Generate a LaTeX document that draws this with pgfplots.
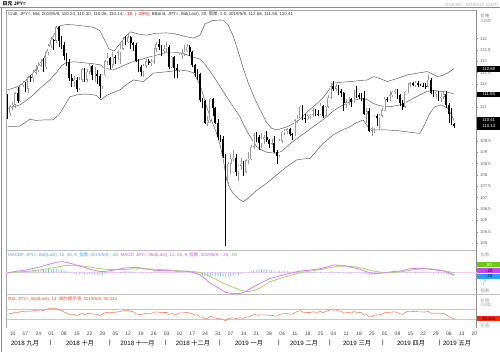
\documentclass[border=0pt]{standalone}
\usepackage{fontspec}
\setmainfont{Liberation Sans}
\newfontfamily\cjk{Noto Sans CJK SC}
\usepackage{pgfplots}
\usepackage{pgfplotstable}
\pgfplotsset{compat=1.18}

\definecolor{bbgray}{HTML}{505050}
\definecolor{upgray}{HTML}{9A9A9A}
\definecolor{macdmag}{HTML}{E27CF2}
\definecolor{macdgreen}{HTML}{A2D862}
\definecolor{histblue}{HTML}{6CBEF4}
\definecolor{zeropink}{HTML}{F2CDF7}
\definecolor{rsiline}{HTML}{FF7C5C}
\definecolor{rsiband}{HTML}{FFB2A0}
\definecolor{rsired}{HTML}{FF4A26}
\definecolor{hdrblue}{HTML}{4AA8F0}
\definecolor{hdrmag}{HTML}{D650F0}
\definecolor{hdrgreen}{HTML}{66BB22}
\definecolor{boxgreen}{HTML}{66CC11}
\definecolor{boxmag}{HTML}{CC44F4}
\definecolor{boxblue}{HTML}{22A2F6}
\definecolor{boxred}{HTML}{EE2A0A}

\newcommand\sm{\fontsize{4.3}{5}\selectfont}
\newcommand\hdr{\fontsize{4.45}{5}\selectfont}

\pgfplotstableread{
d O H L C
-2 111.45 111.55 110.45 110.72
-1 110.72 111.10 110.60 111.02
0 111.02 111.20 110.85 111.10
1 111.10 111.65 110.95 111.60
2 111.60 111.85 111.15 111.25
3 111.25 112.00 111.20 111.95
4 111.95 112.15 111.85 112.05
5 112.05 112.10 111.65 111.80
6 111.80 112.35 111.60 112.30
7 112.30 112.40 112.10 112.25
8 112.25 112.60 112.10 112.50
9 112.50 112.85 112.40 112.60
10 112.60 112.95 112.55 112.80
11 112.80 113.10 112.75 112.95
12 112.95 113.15 112.55 112.75
13 112.75 113.45 112.65 113.40
14 113.40 113.75 113.30 113.70
15 113.70 114.05 113.60 113.95
16 113.95 114.00 113.50 113.90
17 113.90 114.55 113.80 114.50
18 114.50 114.55 113.65 113.90
19 113.90 114.10 113.55 113.70
20 113.70 113.85 113.05 113.25
21 113.25 113.35 112.80 112.95
22 112.95 113.10 112.15 112.25
23 112.25 112.45 111.85 112.15
24 112.15 112.35 111.85 112.20
25 112.20 112.30 111.65 111.80
26 111.80 112.30 111.75 112.20
27 112.20 112.70 112.10 112.65
28 112.65 112.70 112.10 112.20
29 112.20 112.65 112.10 112.55
30 112.55 112.90 112.45 112.80
31 112.80 112.85 112.20 112.40
32 112.40 112.75 112.10 112.45
33 112.45 112.60 112.00 112.35
34 112.35 112.45 111.40 111.90
35 111.90 112.45 111.80 112.40
36 112.40 113.05 112.35 113.00
37 113.00 113.35 112.85 113.15
38 113.15 113.20 112.65 112.85
39 112.85 113.40 112.70 113.20
40 113.20 113.30 112.90 113.15
41 113.15 113.50 113.05 113.40
42 113.40 113.80 112.90 113.55
43 113.55 114.05 113.50 113.95
44 113.95 114.10 113.70 113.85
45 113.85 114.25 113.80 114.05
46 114.05 114.10 113.55 113.80
47 113.80 113.85 113.45 113.70
48 113.70 113.80 112.95 113.00
49 113.00 113.10 112.55 112.75
50 112.75 112.85 112.35 112.55
51 112.55 112.90 112.30 112.80
52 112.80 113.10 112.70 113.00
53 113.00 113.10 112.85 112.92
54 112.92 113.10 112.80 112.98
55 112.98 113.60 112.90 113.55
56 113.55 113.85 113.40 113.75
57 113.75 114.00 113.50 113.65
58 113.65 113.70 113.25 113.45
59 113.45 113.70 113.35 113.55
60 113.55 113.85 113.40 113.65
61 113.65 113.70 112.65 112.75
62 112.75 113.25 112.70 113.20
63 113.20 113.25 112.25 112.70
64 112.70 112.90 112.25 112.62
65 112.62 113.35 112.55 113.30
66 113.30 113.55 113.10 113.35
67 113.35 113.70 113.25 113.45
68 113.45 113.75 113.40 113.65
69 113.65 113.70 113.25 113.40
70 113.40 113.45 112.75 112.85
71 112.85 112.90 112.30 112.50
72 112.50 112.65 112.20 112.45
73 112.45 112.50 111.20 111.30
74 111.30 111.40 110.95 111.25
75 111.25 111.30 110.25 110.30
76 110.30 110.60 110.15 110.40
77 110.40 111.40 110.30 111.35
78 111.35 111.40 110.60 110.95
79 110.95 111.00 110.25 110.30
80 110.30 110.45 109.55 109.65
81 109.65 109.75 109.45 109.60
82 109.60 109.70 108.75 108.85
83 108.85 108.90 104.87 107.65
84 107.65 108.55 107.50 108.50
85 108.50 108.90 108.05 108.70
86 108.70 109.10 108.60 108.75
87 108.75 108.90 107.95 108.15
88 108.15 108.45 107.75 108.40
89 108.40 108.75 108.20 108.50
90 108.50 108.60 107.95 108.15
91 108.15 108.70 108.10 108.65
92 108.65 109.00 108.50 108.70
93 108.70 109.30 108.65 109.25
94 109.25 109.85 109.15 109.75
95 109.75 109.90 109.45 109.65
96 109.65 109.75 109.10 109.40
97 109.40 109.85 109.20 109.60
98 109.60 109.75 109.35 109.65
99 109.65 109.95 109.45 109.55
100 109.55 109.60 109.20 109.35
101 109.35 109.60 109.30 109.40
102 109.40 109.70 108.95 109.00
103 109.00 109.10 108.50 108.85
104 108.85 109.60 108.80 109.50
105 109.50 109.95 109.40 109.90
106 109.90 110.00 109.75 109.95
107 109.95 110.05 109.80 110.00
108 110.00 110.05 109.70 109.80
109 109.80 109.85 109.55 109.75
110 109.75 110.45 109.70 110.40
111 110.40 110.65 110.30 110.50
112 110.50 111.05 110.45 111.00
113 111.00 111.10 110.40 110.50
114 110.50 110.70 110.30 110.45
115 110.45 110.70 110.40 110.60
116 110.60 110.70 110.45 110.65
117 110.65 110.95 110.55 110.85
118 110.85 110.90 110.60 110.70
119 110.70 110.85 110.60 110.68
120 110.68 111.15 110.65 111.05
121 111.05 111.10 110.50 110.60
122 110.60 111.05 110.50 111.00
123 111.00 111.50 110.95 111.40
124 111.40 112.05 111.35 111.90
125 111.90 112.15 111.70 111.80
126 111.80 112.00 111.70 111.90
127 111.90 111.95 111.50 111.70
128 111.70 111.80 111.45 111.60
129 111.60 111.65 110.80 111.15
130 111.15 111.35 110.95 111.20
131 111.20 111.45 111.10 111.35
132 111.35 111.40 111.00 111.20
133 111.20 111.75 111.15 111.70
134 111.70 111.90 111.40 111.50
135 111.50 111.60 111.35 111.45
136 111.45 111.60 111.25 111.40
137 111.40 111.70 110.65 110.70
138 110.70 110.95 110.30 110.80
139 110.80 110.95 109.90 109.95
140 109.95 110.10 109.70 110.05
141 110.05 110.65 109.85 110.60
142 110.60 110.70 110.15 110.50
143 110.50 110.70 110.00 110.60
144 110.60 110.95 110.55 110.85
145 110.85 111.45 110.80 111.35
146 111.35 111.45 111.20 111.30
147 111.30 111.70 111.25 111.50
148 111.50 111.70 111.45 111.65
149 111.65 111.80 111.55 111.70
150 111.70 111.80 111.35 111.50
151 111.50 111.55 111.05 111.15
152 111.15 111.30 110.85 111.00
153 111.00 111.70 110.95 111.65
154 111.65 112.05 111.60 112.00
155 112.00 112.10 111.85 112.03
156 112.03 112.10 111.90 111.95
157 111.95 112.15 111.85 112.05
158 112.05 112.15 111.85 111.95
159 111.95 112.00 111.90 111.92
160 111.92 112.05 111.85 111.90
161 111.90 112.05 111.80 111.88
162 111.88 112.40 111.85 112.20
163 112.20 112.25 111.55 111.60
164 111.60 111.75 111.45 111.55
165 111.55 111.70 111.40 111.65
166 111.65 111.70 111.25 111.40
167 111.40 111.60 111.20 111.45
168 111.45 111.65 111.35 111.55
169 111.55 111.70 110.95 111.10
170 111.10 111.15 110.30 110.70
171 110.70 110.95 110.20 110.25
172 110.24 110.30 110.06 110.14
}\candles

\pgfplotstableread{
d v
-2 111.74
1 111.85
3 111.95
6 112.25
8 112.50
10 112.80
12 113.10
14 113.60
16 114.15
18 114.55
21 114.62
24 114.60
28 114.55
31.5 114.50
34 114.35
36 113.90
37.5 113.55
39.5 113.45
42 113.80
44 114.10
46 114.30
49 114.20
52 114.15
56 114.24
60 114.25
63 114.22
67 114.10
70.5 114.02
73 114.15
75 114.65
78 114.80
82 114.82
84 114.60
86 114.10
88 113.40
90 112.65
92 112.00
94 111.45
96.5 110.86
99 110.30
101 110.05
103 109.98
105 110.05
107 110.12
110 110.30
112 110.45
115 110.80
118.7 111.15
121 111.40
123 111.70
125 112.04
128 112.08
131.7 112.11
135 112.15
138.2 112.18
140.7 112.33
143 112.25
146 112.11
150 112.25
153.8 112.40
157.7 112.48
161.6 112.55
163.5 112.45
165.5 112.33
167.5 112.38
169.4 112.48
171 112.60
172 112.68
}\bbup

\pgfplotstableread{
d v
-2 110.93
2.8 111.08
5 111.25
8 111.52
11 111.85
14.5 112.18
17 112.50
19 112.80
21 112.95
24 112.98
27.5 112.94
31 112.90
34 112.85
36 112.70
39 112.62
42 112.75
45 112.90
47 112.99
50 113.08
53.5 113.20
57 113.30
60 113.40
63 113.40
66.5 113.35
70 113.20
73 113.10
75 112.86
77 112.55
78.5 112.30
80.8 111.90
83.4 111.44
86 111.00
88.6 110.56
90.5 110.10
92.5 109.70
95.1 109.24
97 109.10
99 109.00
102.9 108.95
105 109.05
106.8 109.24
109 109.45
112 109.70
114.5 109.90
117.1 110.12
120 110.35
122.4 110.56
125 110.82
127.5 111.00
131.4 111.22
134 111.32
136.6 111.37
138.5 111.30
140.5 111.15
143 111.05
145.8 111.00
148 111.02
150.9 111.08
153.5 111.20
156.1 111.37
158.7 111.52
161.3 111.67
164 111.72
166.5 111.68
169 111.65
171 111.60
172 111.55
}\bbmid

\pgfplotstableread{
d v
-2 110.12
2.8 110.15
6.7 110.45
9 110.40
12 110.42
15.8 110.42
18.4 110.70
20.5 111.10
22.3 111.44
25 111.52
27.5 111.56
30 111.55
32.7 111.50
34.5 111.30
36.6 111.50
39 111.62
41.8 111.74
44 111.95
47 112.18
50.9 112.11
53 112.30
54.8 112.48
58 112.52
61 112.55
65.2 112.62
68 112.58
70.4 112.50
72 112.20
73.5 111.80
75.6 111.00
77.5 110.40
79.5 109.83
81 109.25
82.1 108.66
83.4 107.78
85 107.35
86 107.19
88 106.95
89.9 106.82
91.5 106.95
93.8 107.19
96 107.40
99 107.63
101 107.82
102.9 108.00
106.8 108.36
110.7 108.66
113 108.70
115.9 108.73
118 109.00
121 109.39
124.9 109.76
128 109.95
131.4 110.12
134 110.30
136.6 110.42
138 110.20
139.2 109.98
142 109.98
145.8 109.98
150 109.95
153.5 109.90
156 109.86
158.7 109.83
160.5 110.20
162.5 110.70
164.5 111.00
167 111.08
169.5 110.95
171 110.65
172 110.41
}\bblow

\pgfplotstableread{
d v
-2 0.00
2 0.12
5 0.20
8 0.32
11 0.45
14 0.62
17 0.78
19 0.83
21 0.78
23 0.68
26 0.50
28 0.40
30 0.27
32 0.18
34 0.08
36 0.10
38 0.15
41 0.25
43 0.33
45 0.37
47 0.40
49.6 0.38
51 0.30
53 0.26
56 0.15
59 0.18
62 0.15
64 0.10
66 0.12
69 0.08
71 -0.02
73 -0.17
75 -0.45
77 -0.80
79 -1.00
81 -1.25
83 -1.48
86 -1.58
89 -1.55
91 -1.40
93 -1.15
96 -0.85
100 -0.45
104 -0.25
108 -0.05
112 0.12
116 0.20
120 0.30
123 0.45
125 0.58
128 0.56
131 0.45
135 0.28
137 0.15
139 0.00
142 -0.08
145 0.00
148 0.08
151 0.12
155 0.30
158 0.33
161 0.30
165 0.20
168 0.12
170 0.00
172 -0.20
}\macdline

\pgfplotstableread{
d v
-2 0.00
3 0.06
8 0.14
13 0.28
17 0.42
21 0.55
25 0.56
29 0.46
33 0.33
37 0.25
42 0.24
47 0.28
52 0.30
57 0.24
62.6 0.18
67 0.12
70 0.10
73 0.02
76 -0.20
79 -0.48
82 -0.78
85 -1.02
88.6 -1.30
91 -1.42
93 -1.40
96 -1.20
100 -0.70
104 -0.45
108 -0.22
112 0.00
116 0.12
120 0.24
123 0.35
126.5 0.48
130 0.50
134 0.42
137 0.32
140 0.15
144 0.02
148 0.02
152 0.08
156 0.22
160 0.32
164 0.28
168 0.15
172 0.00
}\macdsig

\pgfplotstableread{
d v
-2 0.03
-1 0.05
0 0.07
1 0.10
2 0.11
3 0.14
4 0.16
5 0.16
6 0.18
7 0.18
8 0.19
9 0.20
10 0.21
11 0.22
12 0.21
13 0.24
14 0.26
15 0.27
16 0.27
17 0.30
18 0.26
19 0.22
20 0.16
21 0.10
22 0.03
23 -0.03
24 -0.07
25 -0.12
26 -0.12
27 -0.10
28 -0.13
29 -0.13
30 -0.11
31 -0.13
32 -0.14
33 -0.15
34 -0.18
35 -0.14
36 -0.08
37 -0.04
38 -0.03
39 0.00
40 0.02
41 0.04
42 0.06
43 0.09
44 0.10
45 0.12
46 0.10
47 0.08
48 0.03
49 -0.02
50 -0.05
51 -0.06
52 -0.05
53 -0.05
54 -0.05
55 -0.02
56 0.01
57 0.02
58 0.01
59 0.01
60 0.01
61 -0.04
62 -0.04
63 -0.06
64 -0.07
65 -0.04
66 -0.02
67 0.00
68 0.02
69 0.01
70 -0.03
71 -0.07
72 -0.10
73 -0.17
74 -0.20
75 -0.26
76 -0.27
77 -0.22
78 -0.22
79 -0.25
80 -0.28
81 -0.27
82 -0.30
83 -0.36
84 -0.30
85 -0.24
86 -0.20
87 -0.20
88 -0.14
89 -0.08
90 -0.04
91 0.00
92 0.05
93 0.12
94 0.20
95 0.24
96 0.26
97 0.27
98 0.27
99 0.26
100 0.23
101 0.20
102 0.13
103 0.08
104 0.10
105 0.13
106 0.13
107 0.12
108 0.10
109 0.07
110 0.10
111 0.11
112 0.14
113 0.09
114 0.06
115 0.05
116 0.04
117 0.05
118 0.03
119 0.02
120 0.04
121 0.00
122 0.02
123 0.05
124 0.09
125 0.08
126 0.07
127 0.05
128 0.03
129 -0.02
130 -0.04
131 -0.05
132 -0.06
133 -0.03
134 -0.03
135 -0.04
136 -0.05
137 -0.10
138 -0.11
139 -0.16
140 -0.16
141 -0.12
142 -0.10
143 -0.07
144 -0.04
145 0.01
146 0.03
147 0.05
148 0.06
149 0.07
150 0.05
151 0.01
152 -0.01
153 0.03
154 0.07
155 0.08
156 0.07
157 0.07
158 0.05
159 0.04
160 0.02
161 0.01
162 0.03
163 -0.02
164 -0.04
165 -0.05
166 -0.07
167 -0.07
168 -0.07
169 -0.10
170 -0.14
171 -0.18
172 -0.20
}\macdhist

\pgfplotstableread{
d v
-2 51
0 55
1 60
2 56
3 62
4 63
5 60
6 64
7 63
8 66
9 67
10 68
11 69
12 66
13 71
14 74
15 75
16 74
17 77
18 69
19 66
20 60
21 56
22 49
23 48
24 49
25 45
26 50
27 54
28 49
29 53
30 55
31 51
32 51
33 50
34 45
35 51
36 57
37 59
38 56
39 59
40 59
41 61
42 62
43 66
44 65
45 67
46 63
47 61
48 53
49 50
50 49
51 52
52 54
53 54
54 54
55 59
56 60
57 59
58 57
59 58
60 58
61 50
62 54
63 50
64 50
65 56
66 56
67 57
68 58
69 56
70 51
71 48
72 48
73 38
74 38
75 32
76 33
77 42
78 39
79 34
80 31
81 31
82 27
83 22
84 32
85 34
86 35
87 32
88 34
89 35
90 33
91 38
92 38
93 44
94 49
95 48
96 46
97 48
98 48
99 47
100 46
101 46
102 43
103 42
104 49
105 52
106 53
107 53
108 51
109 51
110 58
111 62
112 66
113 60
114 57
115 58
116 58
117 61
118 59
119 59
120 63
121 57
122 62
123 66
124 70
125 68
126 69
127 65
128 63
129 56
130 57
131 58
132 56
133 62
134 59
135 58
136 57
137 47
138 49
139 39
140 40
141 48
142 47
143 48
144 51
145 57
146 57
147 59
148 60
149 61
150 57
151 52
152 50
153 58
154 63
155 63
156 62
157 63
158 61
159 61
160 60
161 60
162 64
163 55
164 54
165 56
166 52
167 53
168 55
169 48
170 41
171 35
172 30.4
}\rsi

\pgfplotsset{candle/.style={forget plot, only marks, mark=*, mark size=0pt,
  mark options={draw=none, fill=none},
  restrict y to domain=100:130,
  error bars/y dir=plus, error bars/y explicit, error bars/error mark=none}}

\begin{document}
\begin{tikzpicture}
\fill[white] (0pt,0pt) rectangle (500pt,352pt);
\path[use as bounding box] (0pt,0pt) rectangle (500pt,352pt);

\begin{scope}[x=1pt,y=1pt]
% outer frame
\draw[black!45, line width=1.2pt] (0,344.5) -- (500,344.5);
\draw[black!45, line width=0.9pt] (1.8,344.5) -- (1.8,0);
\node[anchor=west, inner sep=0pt, font=\fontsize{4.9}{5}\selectfont\bfseries] at (2.5,348.6) {{\cjk 日元} JPY=};
\node[anchor=east, inner sep=0pt, text=black!30, font=\sm] at (498.5,347) {2018/9/5 - 2019/5/21 (GMT)};
% panel frame
\draw[black!35, line width=0.5pt] (6,24) -- (6,342) -- (476,342);
\draw[black!45, line width=0.6pt] (476,342) -- (476,24);
\draw[black!25, line width=0.5pt] (6,101.5) -- (476,101.5);
\draw[black!25, line width=0.5pt] (6,57.5) -- (500,57.5);
% MACD zero line
\draw[zeropink, line width=1.4pt] (6,79.3) -- (500,79.3);
\end{scope}

% ---------------- main price panel ----------------
\begin{axis}[
  at={(6pt,103pt)}, anchor=south west, scale only axis,
  width=470pt, height=239pt,
  xmin=-2.6, xmax=180.6, ymin=104.74, ymax=115.26,
  axis x line=none, axis y line*=right,
  y axis line style={draw=none},
  ytick={105,105.5,106,106.5,107,107.5,108,108.5,109,109.5,110,110.5,111,111.5,112,112.5,113,113.5,114},
  yticklabels={105,105.5,106,106.5,107,107.5,108,108.5,109,109.5,110,,111,,112,112.5,113,113.5,114},
  tick align=outside, major tick length=2pt,
  ytick style={draw=black!45, line width=0.4pt},
  yticklabel style={font=\sm, text=black!60, inner sep=0pt, xshift=1.8pt},
]
\addplot[bbgray, line width=0.45pt, mark=none] table[x=d,y=v]{\bbup};
\addplot[bbgray, line width=0.45pt, mark=none] table[x=d,y=v]{\bbmid};
\addplot[bbgray, line width=0.45pt, mark=none] table[x=d,y=v]{\bblow};
% up candles: wick, body outline, hollow inside
\addplot[candle, error bars/error bar style={upgray, line width=0.5pt}]
  table[x=d, y expr={\thisrow{C}>=\thisrow{O} ? \thisrow{L} : 0},
        y error plus expr={\thisrow{H}-\thisrow{L}}]{\candles};
\addplot[candle, error bars/error bar style={upgray, line width=1.75pt}]
  table[x=d, y expr={\thisrow{C}>=\thisrow{O} ? \thisrow{O} : 0},
        y error plus expr={\thisrow{C}-\thisrow{O}}]{\candles};
\addplot[candle, error bars/error bar style={white, line width=0.85pt}]
  table[x=d, y expr={\thisrow{C}>=\thisrow{O} ? \thisrow{O}+0.018 : 0},
        y error plus expr={max(\thisrow{C}-\thisrow{O}-0.036,0)}]{\candles};
% down candles: black wick and filled body
\addplot[candle, error bars/error bar style={black, line width=0.5pt}]
  table[x=d, y expr={\thisrow{C}<\thisrow{O} ? \thisrow{L} : 0},
        y error plus expr={\thisrow{H}-\thisrow{L}}]{\candles};
\addplot[candle, error bars/error bar style={black, line width=1.75pt}]
  table[x=d, y expr={\thisrow{C}<\thisrow{O} ? \thisrow{C} : 0},
        y error plus expr={\thisrow{O}-\thisrow{C}}]{\candles};
\end{axis}

% ---------------- MACD panel ----------------
\begin{axis}[
  at={(6pt,57.5pt)}, anchor=south west, scale only axis,
  width=470pt, height=44pt,
  xmin=-2.6, xmax=180.6, ymin=-1.64, ymax=1.67,
  hide axis,
]
\addplot[ybar, bar width=0.7pt, fill=histblue, draw=none, forget plot] table[x=d,y=v]{\macdhist};
\addplot[macdgreen, line width=0.8pt, mark=none] table[x=d,y=v]{\macdsig};
\addplot[macdmag, line width=0.8pt, mark=none] table[x=d,y=v]{\macdline};
\end{axis}

% ---------------- RSI panel ----------------
\begin{axis}[
  at={(6pt,24pt)}, anchor=south west, scale only axis,
  width=470pt, height=33.5pt,
  xmin=-2.6, xmax=180.6, ymin=-8.6, ymax=135.2,
  axis y line=none, axis x line*=bottom,
  x axis line style={draw=none},
  xtick={0,5,...,180},
  xticklabels={10,17,24,01,08,15,22,29,05,12,19,26,03,10,17,24,31,07,14,21,28,04,11,18,25,04,11,18,25,01,08,15,22,29,06,13,20},
  xtick style={draw=none},
  xticklabel style={font=\fontsize{5}{6}\selectfont, text=black!75, anchor=base, yshift=-7.2pt},
]
\addplot[rsiband, line width=0.9pt, mark=none, forget plot] coordinates {(-2.6,70) (180.6,70)};
\addplot[rsiband, line width=0.9pt, mark=none, forget plot] coordinates {(-2.6,30) (180.6,30)};
\addplot[rsiline, line width=0.55pt, mark=none] table[x=d,y=v]{\rsi};
\end{axis}

\begin{scope}[x=1pt,y=1pt]
% ---------------- headers ----------------
\node[anchor=west, inner sep=0pt, font=\hdr, text=black!80] at (8,338.4)
  {Cndl, JPY=, Bid, 2019/5/8, 110.24, 110.30, 110.06, 110.14, \textcolor{red}{-.10, (-.09\%)}, BBand, JPY=, Bid(Last), 20, {\cjk 简单}, 2.0, 2019/5/8, 112.68, 111.55, 110.41};
\node[anchor=west, inner sep=0pt, font=\hdr] at (8,96.8)
  {\textcolor{hdrblue}{MACDF, JPY=, Bid(Last), 12, 26, 9, {\cjk 指数}, 2019/5/8, -.20,} \textcolor{hdrmag}{MACD, JPY=, Bid(Last), 12, 26, 9, {\cjk 指数}, 2019/5/8, -.20,} \textcolor{hdrgreen}{.00}};
\node[anchor=west, inner sep=0pt, font=\hdr, text=rsired] at (8,53)
  {RSI, JPY=, Bid(Last), 14, {\cjk 威尔德平滑}, 2019/5/8, 30.434};

% ---------------- right column labels ----------------
\node[anchor=west, inner sep=0pt, font=\sm, text=black!50] at (480.5,336) {{\cjk 价格}};
\node[anchor=west, inner sep=0pt, font=\sm, text=black!50] at (480.5,331.3) {/USD};
\node[anchor=west, fill=black, text=white, inner sep=0pt, minimum width=23pt, minimum height=5.4pt, font=\sm] at (477,282.8) {112.68};
\node[anchor=west, fill=black, text=white, inner sep=0pt, minimum width=23pt, minimum height=5.4pt, font=\sm] at (477,257.5) {111.55};
\node[anchor=west, fill=black, text=white, inner sep=0pt, minimum width=23pt, minimum height=6.2pt, font=\sm] at (477,231.5) {110.41};
\node[anchor=west, fill=black, text=white, inner sep=0pt, minimum width=23pt, minimum height=6.2pt, font=\sm] at (477,225.5) {110.14};

\node[anchor=west, inner sep=0pt, font=\sm, text=black!40] at (480.5,97) {{\cjk 指数}};
\node[anchor=west, fill=boxgreen, text=white, inner sep=0pt, minimum width=23pt, minimum height=5pt, font=\sm] at (477,87) {.00};
\node[anchor=west, fill=boxmag, text=black, inner sep=0pt, minimum width=23pt, minimum height=5pt, font=\sm] at (477,81.3) {-.20};
\node[anchor=west, fill=boxblue, text=black, inner sep=0pt, minimum width=23pt, minimum height=5pt, font=\sm] at (477,75.7) {-.20};
\node[anchor=west, inner sep=0pt, font=\sm, text=black!40] at (481,71.3) {-.5};
\node[anchor=west, inner sep=0pt, font=\sm, text=black!40] at (481,67.6) {-1};
\node[anchor=west, inner sep=0pt, font=\sm, text=black!40] at (480.5,61) {{\cjk 指数}};

\node[anchor=west, inner sep=0pt, font=\sm, text=black!40] at (480.5,51) {{\cjk 价值}};
\node[anchor=west, inner sep=0pt, font=\sm, text=black!40] at (480.5,46.6) {/USD};
\node[anchor=west, fill=boxred, text=black, inner sep=0pt, minimum width=23pt, minimum height=5pt, font=\sm] at (477,33) {30.434};
\node[anchor=west, inner sep=0pt, font=\sm, text=black!40] at (480.5,26.3) {{\cjk 价值}};

% ---------------- month row ----------------
\begin{scope}[every node/.style={inner sep=0pt, font=\fontsize{6.2}{7}\selectfont, text=black}]
\node at (25,9) {2018 {\cjk 九月}};
\node at (50.7,9) {|};
\node at (80,9) {2018 {\cjk 十月}};
\node at (110,9) {|};
\node at (137.5,9) {2018 {\cjk 十一月}};
\node at (165.7,9) {|};
\node at (193,9) {2018 {\cjk 十二月}};
\node at (220,9) {|};
\node at (249,9) {2019 {\cjk 一月}};
\node at (279,9) {|};
\node at (304,9) {2019 {\cjk 二月}};
\node at (330,9) {|};
\node at (357,9) {2019 {\cjk 三月}};
\node at (383,9) {|};
\node at (411,9) {2019 {\cjk 四月}};
\node at (439.3,9) {|};
\node at (457,9) {2019 {\cjk 五月}};
\end{scope}
\end{scope}
\end{tikzpicture}
\end{document}
